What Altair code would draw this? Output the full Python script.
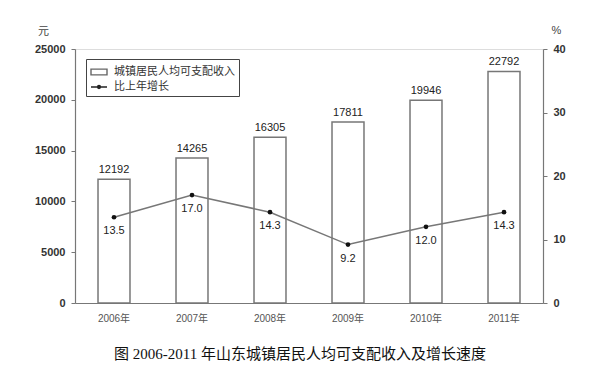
import altair as alt
import pandas as pd

years = ["2006年", "2007年", "2008年", "2009年", "2010年", "2011年"]
income = [12192, 14265, 16305, 17811, 19946, 22792]
growth = [13.5, 17.0, 14.3, 9.2, 12.0, 14.3]
series_names = ["城镇居民人均可支配收入", "比上年增长"]
caption = "图 2006-2011 年山东城镇居民人均可支配收入及增长速度"

df_bar = pd.DataFrame({"year": years, "income": income})
df_line = pd.DataFrame({"year": years, "growth": growth, "label": [f"{g:.1f}" for g in growth]})
df_leg = pd.DataFrame({"series": series_names})

FONT = "Liberation Sans, Noto Sans CJK SC"
AX = "#777777"

x_enc = alt.X("year:N", sort=years, title=None,
              scale=alt.Scale(paddingInner=0.59, paddingOuter=0.295),
              axis=alt.Axis(labelAngle=0, labelFontSize=10, labelColor="#555", labelFont=FONT,
                            labelPadding=10, ticks=False, domainColor=AX, domainWidth=1.2))

y_left = alt.Y("income:Q", scale=alt.Scale(domain=[0, 25000], nice=False),
               axis=alt.Axis(values=[0, 5000, 10000, 15000, 20000, 25000], title="元",
                             format="d",
                             titleAngle=0, titleX=-32, titleY=-18, titleAlign="center",
                             titleBaseline="middle", titleFontSize=11, titleFont=FONT,
                             titleFontWeight="normal", titleColor="#444",
                             labelFont=FONT, labelFontSize=11, labelFontWeight="bold",
                             labelColor="#333", labelPadding=6, tickSize=4, tickColor=AX,
                             domainColor=AX, domainWidth=1.2, grid=False))

y_right = alt.Y("growth:Q", scale=alt.Scale(domain=[0, 40], nice=False),
                axis=alt.Axis(orient="right", values=[0, 10, 20, 30, 40], title="%",
                              titleAngle=0, titleX=13, titleY=-19, titleAlign="center",
                              titleBaseline="middle", titleFontSize=11, titleFont=FONT,
                              titleFontWeight="normal", titleColor="#444",
                              labelFont=FONT, labelFontSize=11, labelFontWeight="bold",
                              labelColor="#333", labelPadding=6, tickSize=4, tickColor=AX,
                              domainColor=AX, domainWidth=1.2, grid=False))

line_path = "M-1,0H1M-0.18,0A0.18,0.18,0,1,0,0.18,0A0.18,0.18,0,1,0,-0.18,0Z"
rect_path = "M-1,-0.36H1V0.36H-1Z"

legend = alt.Legend(
    title=None, orient="none", legendX=11, legendY=10, strokeColor="#444",
    fillColor="white", padding=4, labelFont=FONT, labelFontSize=11, labelColor="#333",
    symbolSize=256, symbolOpacity=1, symbolStrokeWidth=1.4, rowPadding=0, labelOffset=6)

bars = alt.Chart(df_bar).mark_bar(stroke="#777", strokeWidth=1.5, fill="white").encode(
    x=x_enc, y=y_left)
bar_text = alt.Chart(df_bar).mark_text(dy=-9, fontSize=11, font=FONT, color="#222").encode(
    x=x_enc, y=y_left, text=alt.Text("income:Q", format="d"))

line = alt.Chart(df_line).mark_line(color="#777", strokeWidth=1.5).encode(x=x_enc, y=y_right)
pts = alt.Chart(df_line).mark_point(filled=True, color="#111", size=22, opacity=1).encode(
    x=x_enc, y=y_right)
line_text = alt.Chart(df_line).mark_text(dy=14, fontSize=11, font=FONT, color="#222").encode(
    x=x_enc, y=y_right, text="label:N")

leg_layer = alt.Chart(df_leg).mark_point(filled=False, opacity=0).encode(
    shape=alt.Shape("series:N", scale=alt.Scale(domain=series_names, range=[rect_path, line_path]),
                    legend=legend),
    color=alt.Color("series:N", scale=alt.Scale(domain=series_names, range=["#666", "#222"]),
                    legend=legend),
)

chart = alt.layer(
    alt.layer(bars, bar_text),
    alt.layer(line, pts, line_text),
    leg_layer,
).resolve_scale(y="independent").properties(
    width=468, height=254,
    autosize=alt.AutoSizeParams(type="none"),
    padding={"left": 67, "top": 41, "right": 51, "bottom": 63},
    title=alt.Title(caption, orient="bottom", anchor="middle", offset=24, dx=-9,
                    font="Liberation Serif, Noto Sans CJK SC", fontSize=15,
                    fontWeight="normal", color="#111"),
).configure_view(stroke=None).configure(background="white")

chart.save("out.html", embed_options={"renderer": "svg", "actions": False})
